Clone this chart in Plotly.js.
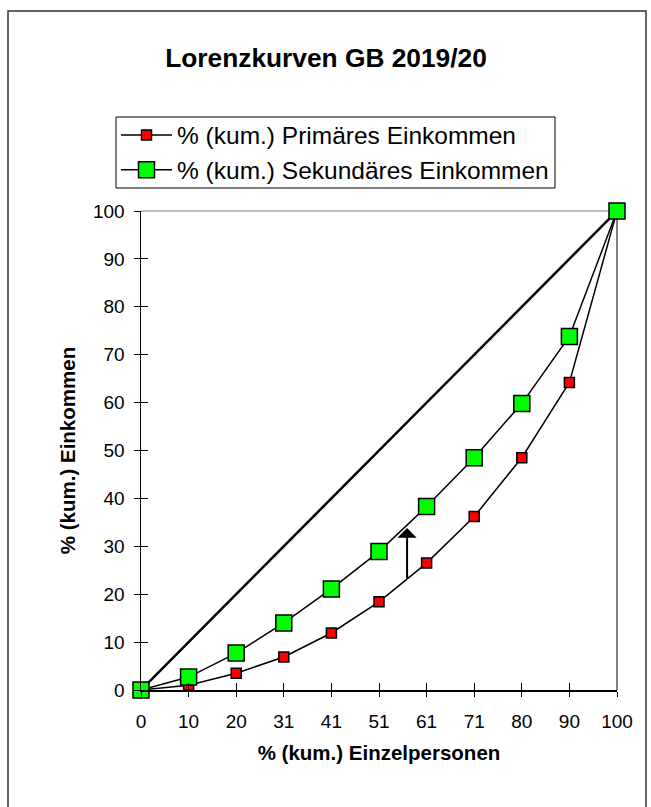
<!DOCTYPE html>
<html>
<head>
<meta charset="utf-8">
<script src="https://cdn.plot.ly/plotly-3.0.1.min.js"></script>
<style>html,body{margin:0;padding:0;background:#fff;}#chart{width:651px;height:807px;}</style>
</head>
<body>
<div id="chart"></div>
<script>
// Categories (x axis: % cumulative persons)
const xLabels = ['0','10','20','31','41','51','61','71','80','90','100'];
// % (kum.) Primäres Einkommen
const primary = [0, 1.0, 3.5, 6.9, 11.9, 18.4, 26.5, 36.2, 48.5, 64.2, 100];
// % (kum.) Sekundäres Einkommen
const secondary = [0, 2.7, 7.7, 14.0, 21.1, 28.9, 38.3, 48.5, 59.8, 73.8, 100];
// Line of equality
const equalityX = ['0', '100'];
const equalityY = [0, 100];
// Arrow (category index position, from -> to)
const arrowX = 5.59;
const arrowFromY = 23;
const arrowToY = 33.8;
const yTicks = [0,10,20,30,40,50,60,70,80,90,100];

const FONT = 'Liberation Sans, Arial, sans-serif';
// pixel -> paper helpers (plot area: x 141..617, y 211..690)
const px = v => (v - 141) / 476;
const py = v => (690 - v) / 479;

const traces = [
  {
    x: equalityX, y: equalityY, type: 'scatter', mode: 'lines',
    line: {color: '#000', width: 2.5}, showlegend: false, hoverinfo: 'skip', cliponaxis: false
  },
  {
    x: xLabels, y: primary, type: 'scatter', mode: 'lines+markers',
    name: '% (kum.) Primäres Einkommen',
    line: {color: '#000', width: 1.5},
    marker: {symbol: 'square', size: 10, color: '#ff0000', line: {color: '#000', width: 1.5}},
    cliponaxis: false
  },
  {
    x: xLabels, y: secondary, type: 'scatter', mode: 'lines+markers',
    name: '% (kum.) Sekundäres Einkommen',
    line: {color: '#000', width: 1.5},
    marker: {symbol: 'square', size: 16, color: '#00ff00', line: {color: '#000', width: 1.5}},
    cliponaxis: false
  },
  {
    x: [xLabels[0]], y: [0], xaxis: 'x2', yaxis: 'y2', type: 'scatter', mode: 'markers',
    marker: {opacity: 0}, showlegend: false, hoverinfo: 'skip'
  }
];

const layout = {
  width: 651, height: 807,
  margin: {l: 141, r: 34, t: 211, b: 117},
  paper_bgcolor: '#fff', plot_bgcolor: '#fff',
  font: {family: FONT, color: '#000'},
  showlegend: true,
  title: {
    text: '<b>Lorenzkurven GB 2019/20</b>',
    font: {family: FONT, size: 26.3, color: '#000'},
    x: 326/651, xref: 'container', xanchor: 'center',
    y: 1 - 58/807, yref: 'container', yanchor: 'middle'
  },
  legend: {
    x: px(116), xanchor: 'left', y: py(112.5), yanchor: 'top',
    borderwidth: 0, bgcolor: 'rgba(0,0,0,0)',
    font: {family: FONT, size: 24.5, color: '#000'},
    itemwidth: 51, tracegroupgap: 0
  },
  xaxis: {
    type: 'category', categoryorder: 'array', categoryarray: xLabels,
    range: [0, 10], fixedrange: true,
    showline: true, linecolor: '#000', linewidth: 1.5,
    ticks: 'outside', ticklen: 5, tickcolor: '#000', tickwidth: 1,
    ticklabelstandoff: 9,
    showgrid: false, zeroline: false,
    tickfont: {family: FONT, size: 19, color: '#000'},
    title: {text: '<b>% (kum.) Einzelpersonen</b>', font: {family: FONT, size: 20.5, color: '#000'}, standoff: 14},
    automargin: false
  },
  yaxis: {
    range: [0, 100], fixedrange: true,
    tickvals: yTicks,
    showline: true, linecolor: '#000', linewidth: 1.5,
    ticks: 'outside', ticklen: 6, tickcolor: '#000', tickwidth: 1,
    ticklabelstandoff: 5,
    showgrid: false, zeroline: false,
    tickfont: {family: FONT, size: 19, color: '#000'},
    title: {text: '<b>% (kum.) Einkommen</b>', font: {family: FONT, size: 20.5, color: '#000'}, standoff: 12},
    automargin: false
  },
  xaxis2: {
    type: 'category', categoryorder: 'array', categoryarray: xLabels,
    overlaying: 'x', anchor: 'y', side: 'bottom', range: [0, 10], fixedrange: true,
    ticks: 'inside', ticklen: 7, tickcolor: '#000', tickwidth: 1,
    showticklabels: false, showline: false, showgrid: false, zeroline: false,
    tickmode: 'array', tickvals: xLabels
  },
  yaxis2: {
    overlaying: 'y', anchor: 'x', side: 'left', range: [0, 100], fixedrange: true,
    tickvals: yTicks,
    ticks: 'inside', ticklen: 7, tickcolor: '#000', tickwidth: 1,
    showticklabels: false, showline: false, showgrid: false, zeroline: false
  },
  shapes: [
    {type: 'line', xref: 'paper', yref: 'paper', x0: 0, x1: 1, y0: 1, y1: 1,
     line: {color: '#808080', width: 1}, layer: 'below'},
    {type: 'line', xref: 'paper', yref: 'paper', x0: 1, x1: 1, y0: 0, y1: 1,
     line: {color: '#000', width: 1}, layer: 'below'},
    {type: 'rect', xref: 'paper', yref: 'paper',
     x0: px(8), x1: px(646), y0: py(812), y1: py(11),
     line: {color: '#333', width: 1.5}, layer: 'below'},
    {type: 'rect', xref: 'paper', yref: 'paper',
     x0: px(116), x1: px(555), y0: py(188), y1: py(117),
     line: {color: '#000', width: 1}, fillcolor: '#fff', layer: 'below'}
  ],
  annotations: [
    {x: arrowX, y: arrowToY, ax: arrowX, ay: arrowFromY, xref: 'x', yref: 'y', axref: 'x', ayref: 'y',
     showarrow: true, arrowhead: 1, arrowsize: 1.6, arrowwidth: 2, arrowcolor: '#000', text: ''}
  ]
};

Plotly.newPlot('chart', traces, layout, {displayModeBar: false, staticPlot: true});
</script>
</body>
</html>
